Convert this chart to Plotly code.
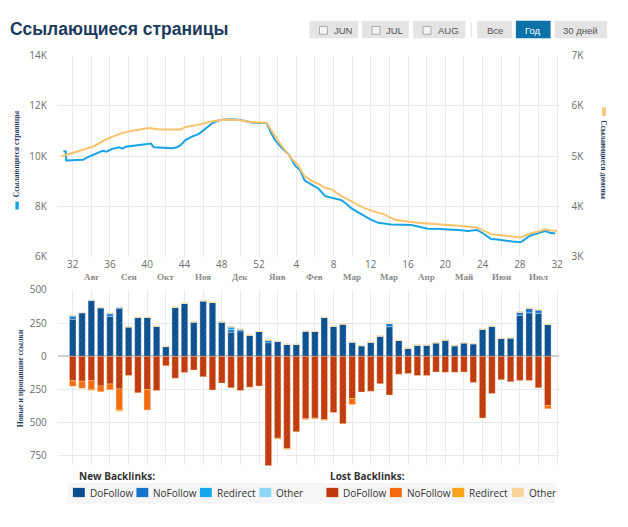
import plotly.graph_objects as go

W, H = 628, 527

# ---------------- DATA ----------------
# week index: 0 = week 32 (Aug), 52 = week 32 next year
week_tick_pos = [0, 4, 8, 12, 16, 20, 24, 28, 32, 36, 40, 44, 48, 52]
week_tick_labels = ["32", "36", "40", "44", "48", "52", "4", "8", "12", "16", "20", "24", "28", "32"]
month_pos = [2, 6, 10, 14, 18, 22, 26, 30, 34, 38, 42, 46, 50]
month_labels = ["Авг", "Сен", "Окт", "Ноя", "Дек", "Янв", "Фев", "Мар", "Мар", "Апр", "Май", "Июн", "Июл"]

pages_t = [-1.0, -0.75, -0.7, 0.0, 0.6, 1.1, 1.5, 2.2, 2.7, 3.2, 3.6, 4.2, 5.0, 5.3, 5.7, 6.4, 7.2, 7.9,
           8.4, 8.7, 9.5, 10.7, 11.2, 11.6, 12.1, 12.8, 13.6, 14.3, 15.0, 15.5, 16.0, 17.0, 17.8, 18.5,
           19.2, 20.0, 20.8, 21.2, 21.7, 22.4, 23.2, 23.9, 24.4, 24.9, 25.5, 26.0, 26.4, 27.1, 28.0,
           28.8, 29.4, 29.9, 30.6, 31.3, 32.0, 32.8, 33.5, 34.2, 35.3, 36.3, 37.2, 38.1, 39.5, 41.0,
           41.7, 42.4, 43.4, 44.2, 44.9, 45.6, 46.3, 47.2, 48.1, 48.6, 49.1, 49.9, 50.7, 51.2, 51.8]
pages_v = [10200, 10190, 9830, 9850, 9870, 9860, 9950, 10065, 10130, 10220, 10180, 10290, 10360, 10300,
           10380, 10410, 10440, 10480, 10505, 10360, 10340, 10320, 10360, 10450, 10645, 10780, 10900,
           11100, 11320, 11400, 11457, 11470, 11457, 11400, 11340, 11320, 11320, 11000, 10645, 10350,
           10065, 9615, 9460, 9033, 8900, 8775, 8710, 8415, 8330, 8260, 8100, 7935, 7780, 7613, 7480,
           7355, 7320, 7290, 7280, 7265, 7200, 7120, 7110, 7095, 7060, 7032, 7070, 6900, 6710, 6690,
           6645, 6610, 6580, 6700, 6840, 6940, 7032, 6960, 6930]

domains_t = [-1.2, -0.3, 0.5, 1.1, 2.2, 2.9, 3.6, 4.7, 5.3, 6.1, 7.0, 8.2, 9.3, 10.5, 11.6, 12.1, 13.6,
             15.0, 16.4, 17.8, 19.2, 20.8, 21.4, 22.1, 22.8, 23.5, 24.2, 24.9, 25.6, 26.4, 27.1, 27.8,
             28.8, 29.6, 30.3, 31.3, 32.4, 33.5, 34.5, 35.5, 36.5, 38.1, 39.5, 41.0, 42.2, 43.4, 44.2,
             44.9, 46.0, 47.0, 48.1, 48.6, 49.1, 49.9, 50.7, 51.2, 52.0]
domains_v = [5000, 5046, 5090, 5130, 5195, 5260, 5336, 5420, 5460, 5497, 5520, 5562, 5530, 5525, 5530,
             5582, 5632, 5697, 5729, 5720, 5678, 5665, 5480, 5291, 5120, 4949, 4820, 4600, 4517, 4452,
             4368, 4343, 4214, 4140, 4065, 3968, 3900, 3840, 3743, 3710, 3690, 3666, 3650, 3633, 3610,
             3581, 3510, 3452, 3430, 3410, 3387, 3420, 3465, 3500, 3549, 3530, 3516]

bar_weeks = list(range(52))
new_dofollow = [279, 327, 420, 364, 301, 362, 223, 294, 294, 228, 74, 370, 400, 260, 419, 407, 260, 182,
                192, 160, 187, 103, 113, 91, 91, 191, 187, 294, 228, 245, 108, 81, 108, 154, 223, 120,
                62, 86, 86, 103, 123, 81, 103, 96, 206, 228, 135, 140, 309, 328, 324, 240]
new_nofollow = [24, 4, 4, 4, 20, 8, 0, 0, 0, 0, 0, 0, 0, 0, 0, 0, 0, 20,
                14, 0, 0, 20, 0, 0, 0, 0, 0, 0, 0, 0, 0, 0, 0, 0, 25, 0,
                0, 0, 0, 0, 0, 0, 0, 0, 0, 0, 0, 0, 25, 35, 27, 0]
new_redirect = [6, 0, 0, 0, 5, 0, 0, 0, 0, 0, 0, 0, 0, 0, 0, 0, 0, 21,
                0, 0, 0, 0, 0, 0, 0, 0, 0, 0, 0, 0, 0, 0, 0, 0, 0, 0,
                0, 0, 0, 0, 0, 0, 0, 0, 0, 0, 0, 0, 0, 0, 0, 0]
new_other = [0] * 52

lost_dofollow = [184, 188, 184, 223, 208, 245, 144, 274, 250, 257, 71, 164, 122, 103, 154, 254, 201, 237,
                 257, 232, 223, 830, 616, 694, 568, 470, 465, 477, 423, 507, 318, 269, 262, 206, 291, 135,
                 129, 144, 144, 118, 120, 120, 118, 196, 465, 279, 176, 191, 181, 181, 237, 370]
lost_nofollow = [41, 52, 68, 44, 44, 160, 0, 0, 154, 0, 0, 0, 0, 0, 0, 0, 0, 0,
                 0, 0, 0, 0, 6, 6, 0, 5, 5, 5, 0, 0, 44, 0, 0, 0, 0, 0,
                 0, 0, 0, 0, 0, 0, 0, 0, 0, 0, 0, 0, 0, 0, 0, 24]
lost_redirect = [0, 0, 5, 0, 0, 9, 0, 0, 0, 0, 0, 0, 0, 0, 0, 0, 0, 0,
                 0, 0, 0, 0, 0, 0, 0, 0, 0, 0, 0, 0, 0, 0, 0, 0, 0, 0,
                 0, 0, 0, 0, 0, 0, 0, 0, 0, 0, 0, 0, 0, 0, 0, 0]
lost_other = [0] * 52

left_ticks = [6000, 8000, 10000, 12000, 14000]
left_tick_labels = ["6K", "8K", "10K", "12K", "14K"]
right_ticks = [3000, 4000, 5000, 6000, 7000]
right_tick_labels = ["3K", "4K", "5K", "6K", "7K"]
bar_ticks = [-750, -500, -250, 0, 250, 500]
bar_tick_labels = ["750", "500", "250", "0", "250", "500"]

legend_new = ["DoFollow", "NoFollow", "Redirect", "Other"]
legend_lost = ["DoFollow", "NoFollow", "Redirect", "Other"]

# ---------------- STYLE ----------------
new_colors = ["#0b4f8f", "#1674cc", "#18a8ee", "#8cd6f2"]
lost_colors = ["#c0390c", "#f26a0c", "#f7a21b", "#f6d49a"]
pages_color = "#1aa3e8"
domains_color = "#fdc26b"
grid = "#e9e9e9"
tick_font = dict(family="Open Sans, Arial, sans-serif", size=10, color="#6e6e6e")
serif_bold = "Liberation Serif, DejaVu Serif, serif"
navy = "#1b3a5e"


def px(x):
    return x / W


def py(y):
    return 1 - y / H


X0, X1 = 58.3, 563.0
XR = [-1.6, 52.15]

fig = go.Figure()

# lines
fig.add_trace(go.Scatter(x=pages_t, y=pages_v, mode="lines", name="Ссылающиеся страницы",
                         line=dict(color=pages_color, width=2), xaxis="x", yaxis="y", showlegend=False))
fig.add_trace(go.Scatter(x=domains_t, y=domains_v, mode="lines", name="Ссылающиеся домены",
                         line=dict(color=domains_color, width=2), xaxis="x", yaxis="y2", showlegend=False))

# bars
new_series = [new_dofollow, new_nofollow, new_redirect, new_other]
lost_series = [lost_dofollow, lost_nofollow, lost_redirect, lost_other]
for name, vals, col in zip(legend_new, new_series, new_colors):
    fig.add_trace(go.Bar(x=bar_weeks, y=vals, name="New " + name, width=0.7,
                         marker=dict(color=col, line=dict(color="rgba(220,240,255,0.6)", width=0.6),
                                     pattern=dict(shape="/", fgcolor="#ffffff", fgopacity=0.06, size=4, solidity=0.3)),
                         xaxis="x2", yaxis="y3", showlegend=False))
for name, vals, col in zip(legend_lost, lost_series, lost_colors):
    fig.add_trace(go.Bar(x=bar_weeks, y=[-v for v in vals], name="Lost " + name, width=0.7,
                         marker=dict(color=col, line=dict(color="rgba(255,225,170,0.6)", width=0.6),
                                     pattern=dict(shape="/", fgcolor="#ffffff", fgopacity=0.06, size=4, solidity=0.3)),
                         xaxis="x2", yaxis="y3", showlegend=False))

grid_vals = list(range(0, 53, 2))
grid_text = []
for g in grid_vals:
    grid_text.append(week_tick_labels[week_tick_pos.index(g)] if g in week_tick_pos else "")

shapes = []
annotations = []

# title
annotations.append(dict(text="<b>Ссылающиеся страницы</b>", x=px(8), y=py(23), xref="paper", yref="paper",
                        xanchor="left", yanchor="middle", showarrow=False,
                        font=dict(family="Liberation Sans, Arial, sans-serif", size=17.5, color=navy)))

# buttons
buttons = [("JUN", 312, 361, True, False), ("JUL", 365, 412, True, False), ("AUG", 416.5, 469, True, False),
           ("Все", 481, 516, False, False), ("Год", 520, 555, False, True), ("30 дней", 559, 612, False, False)]
for label, bx0, bx1, chk, active in buttons:
    shapes.append(dict(type="rect", xref="paper", yref="paper", x0=px(bx0), x1=px(bx1), y0=py(32), y1=py(14),
                       fillcolor="#0b72a8" if active else "#e4e4e4", line=dict(width=0), layer="above"))
    if chk:
        shapes.append(dict(type="rect", xref="paper", yref="paper", x0=px(bx0 + 10), x1=px(bx0 + 18),
                           y0=py(28), y1=py(20), fillcolor="#f4f4f4", line=dict(color="#a8a8a8", width=1),
                           layer="above"))
        cx = (bx0 + 22 + bx1 - 3) / 2
    else:
        cx = (bx0 + bx1) / 2
    annotations.append(dict(text=label, x=px(cx), y=py(24), xref="paper", yref="paper",
                            xanchor="center", yanchor="middle", showarrow=False,
                            font=dict(family="Liberation Sans Narrow, Liberation Sans, Arial, sans-serif", size=9.5,
                                      color="#ffffff" if active else "#555555")))
shapes.append(dict(type="line", xref="paper", yref="paper", x0=px(475), x1=px(475), y0=py(31), y1=py(16),
                   line=dict(color="#dddddd", width=1)))

# month labels
for mp, ml in zip(month_pos, month_labels):
    annotations.append(dict(text="<b>" + ml + "</b>", x=mp, y=py(277), xref="x", yref="paper",
                            xanchor="center", yanchor="middle", showarrow=False,
                            font=dict(family=serif_bold, size=9, color="#8a8a8a")))

# axis titles with markers
annotations.append(dict(text="<b>Ссылающиеся страницы</b>", x=px(17.5), y=py(151), xref="paper", yref="paper",
                        textangle=-90, showarrow=False, xanchor="center", yanchor="middle",
                        font=dict(family=serif_bold, size=7.6, color=navy)))
shapes.append(dict(type="rect", xref="paper", yref="paper", x0=px(15.5), x1=px(19), y0=py(208), y1=py(200),
                   fillcolor=pages_color, line=dict(width=0)))
annotations.append(dict(text="<b>Ссылающиеся домены</b>", x=px(608.5), y=py(157), xref="paper", yref="paper",
                        textangle=90, showarrow=False, xanchor="center", yanchor="middle",
                        font=dict(family=serif_bold, size=7.6, color=navy)))
shapes.append(dict(type="rect", xref="paper", yref="paper", x0=px(607), x1=px(610.5), y0=py(112), y1=py(103),
                   fillcolor=domains_color, line=dict(width=0)))
annotations.append(dict(text="<b>Новые и пропавшие ссылки</b>", x=px(21.5), y=py(381), xref="paper", yref="paper",
                        textangle=-90, showarrow=False, xanchor="center", yanchor="middle",
                        font=dict(family=serif_bold, size=7.6, color=navy)))

# legend
leg_font = dict(family="Open Sans, Arial, sans-serif", size=10, color="#333333")
shapes.append(dict(type="rect", xref="paper", yref="paper", x0=px(68), x1=px(560), y0=py(510), y1=py(489),
                   fillcolor="#f6f6f6", line=dict(width=0), layer="below"))
annotations.append(dict(text="<b>New Backlinks:</b>", x=px(78), y=py(481.5), xref="paper", yref="paper",
                        xanchor="left", yanchor="middle", showarrow=False, font=leg_font))
annotations.append(dict(text="<b>Lost Backlinks:</b>", x=px(331), y=py(481.5), xref="paper", yref="paper",
                        xanchor="left", yanchor="middle", showarrow=False, font=leg_font))
new_sw_x = [73.5, 137.5, 201.5, 261.5]
lost_sw_x = [329, 393, 456, 516]
for names, cols, xs in ((legend_new, new_colors, new_sw_x), (legend_lost, lost_colors, lost_sw_x)):
    for nm, col, sx in zip(names, cols, xs):
        shapes.append(dict(type="rect", xref="paper", yref="paper", x0=px(sx), x1=px(sx + 12),
                           y0=py(503.5), y1=py(494), fillcolor=col, line=dict(width=0)))
        annotations.append(dict(text=nm, x=px(sx + 15), y=py(499.5), xref="paper", yref="paper",
                                xanchor="left", yanchor="middle", showarrow=False, font=leg_font))

fig.update_layout(
    width=W, height=H, autosize=False,
    margin=dict(l=0, r=0, t=0, b=0),
    paper_bgcolor="white", plot_bgcolor="white",
    barmode="relative", bargap=0.3,
    xaxis=dict(domain=[px(X0), px(X1)], range=XR, tickmode="array", tickvals=grid_vals, ticktext=grid_text,
               showgrid=True, gridcolor=grid, gridwidth=1, zeroline=False, showline=False, ticks="",
               tickfont=tick_font, anchor="y", fixedrange=True),
    yaxis=dict(domain=[py(256.7), py(50)], range=[6000, 14000], tickmode="array", tickvals=left_ticks,
               ticktext=left_tick_labels, showgrid=True, gridcolor=grid, zeroline=False, ticks="",
               tickfont=tick_font, ticklabelstandoff=10, anchor="x"),
    yaxis2=dict(range=[3000, 7000], overlaying="y", side="right", tickmode="array", tickvals=right_ticks,
                ticktext=right_tick_labels, showgrid=False, zeroline=False, ticks="", tickfont=tick_font,
                ticklabelstandoff=12, anchor="x"),
    xaxis2=dict(domain=[px(X0), px(X1)], range=XR, tickmode="array", tickvals=grid_vals, showticklabels=False,
                showgrid=True, gridcolor=grid, zeroline=False, showline=False, ticks="", anchor="y3"),
    yaxis3=dict(domain=[py(471), py(290.7)], range=[-822, 500], tickmode="array", tickvals=bar_ticks,
                ticktext=bar_tick_labels, showgrid=True, gridcolor=grid, zeroline=True, zerolinecolor="#cfcfcf",
                zerolinewidth=2, ticks="", tickfont=tick_font, ticklabelstandoff=10, anchor="x2"),
    shapes=shapes,
    annotations=annotations,
    showlegend=False,
)

fig.write_html("out.html")
